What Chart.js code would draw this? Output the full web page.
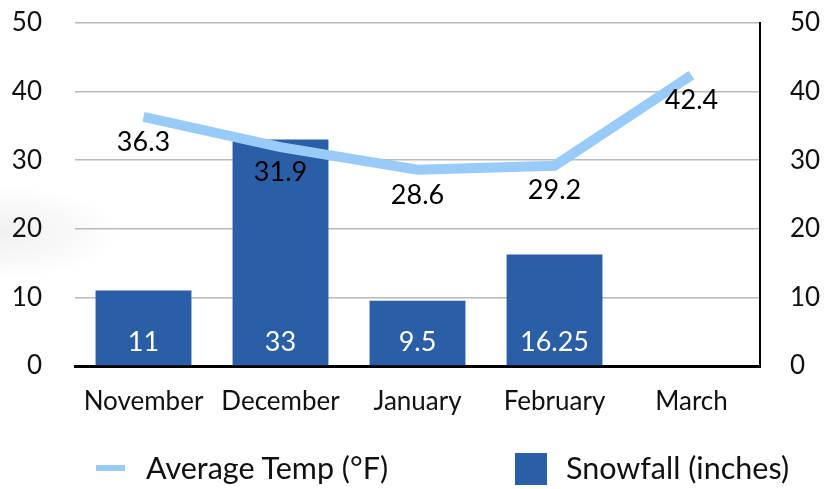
<!DOCTYPE html>
<html>
<head>
<meta charset="utf-8">
<script src="https://cdn.jsdelivr.net/npm/chart.js@4"></script>
<style>
  html, body { margin: 0; padding: 0; background: #fff; }
  body {
    width: 836px; height: 489px; position: relative; overflow: hidden;
    font-family: 'Lato', sans-serif;
  }
  .shade {
    position: absolute; left: -120px; top: 185px; width: 240px; height: 95px;
    background: radial-gradient(ellipse at center, rgba(0,0,0,0.06) 0%, rgba(0,0,0,0.025) 45%, rgba(0,0,0,0) 70%);
  }
  #wrap { position: absolute; left: 0; top: 0; width: 836px; height: 489px; }
  .legend { position: absolute; top: 449px; font-size: 30.5px; color: #111; line-height: 36px; }
  .legend .sw { position: absolute; }
</style>
</head>
<body>
<div class="shade"></div>
<div id="wrap"><canvas id="chart" width="836" height="489"></canvas></div>
<div class="legend" style="left:96px">
  <span class="sw" style="left:0;top:16px;width:29px;height:6px;background:#99cbf8"></span>
  <span style="margin-left:50px">Average Temp (°F)</span>
</div>
<div class="legend" style="left:515px">
  <span class="sw" style="left:0;top:4px;width:32px;height:32px;background:#2a5fa8"></span>
  <span style="margin-left:51px">Snowfall (inches)</span>
</div>
<script>
// Snowfall vs. average temperature, by month

const months = ['November', 'December', 'January', 'February', 'March'];
const snowfall = [11, 33, 9.5, 16.25, null];
const avgTemp = [36.3, 31.9, 28.6, 29.2, 42.4];
const axisTicks = [0, 10, 20, 30, 40, 50];

const BAR = '#2a5fa8';
const LINE = '#99cbf8';
const GRID = '#b9b9b9';
const FONT = "'Lato', sans-serif";

// value labels: white inside bar bottoms, black below the line points
const valueLabels = {
    id: 'valueLabels',
    afterDatasetsDraw(chart) {
        const ctx = chart.ctx;
        ctx.save();
        ctx.font = '27px ' + FONT;
        ctx.textAlign = 'center';
        ctx.textBaseline = 'middle';

        const bars = chart.getDatasetMeta(1).data;
        ctx.fillStyle = '#fff';
        bars.forEach((el, i) => {
            if (snowfall[i] == null) return;
            ctx.fillText(String(snowfall[i]), el.x, el.base - 23);
        });

        const pts = chart.getDatasetMeta(0).data;
        ctx.fillStyle = '#000';
        pts.forEach((el, i) => {
            ctx.fillText(avgTemp[i].toFixed(1), el.x, el.y + 25);
        });
        ctx.restore();
    },
};

const tickOpts = {
    color: '#111',
    font: { family: FONT, size: 26 },
    callback: v => axisTicks.includes(v) ? String(v) : '',
};

// fixed widths; drop the tick padding Chart.js adds above/below vertical axes
const fitY = w => s => { s.width = w; s.paddingTop = 0; s.paddingBottom = 0; };

new Chart(document.getElementById('chart'), {
    data: {
        labels: months,
        datasets: [
            {
                type: 'line',
                label: 'Average Temp (°F)',
                data: avgTemp,
                yAxisID: 'y1',
                borderColor: LINE,
                borderWidth: 10,
                pointRadius: 0,
                tension: 0,
                order: 1,
            },
            {
                type: 'bar',
                label: 'Snowfall (inches)',
                data: snowfall,
                yAxisID: 'y',
                backgroundColor: BAR,
                categoryPercentage: 1,
                barPercentage: 0.7,
                order: 2,
            },
        ],
    },
    options: {
        responsive: false,
        animation: false,
        layout: { padding: { top: 23, left: 0, right: 0, bottom: 0 } },
        plugins: { legend: { display: false }, tooltip: { enabled: false } },
        scales: {
            x: {
                grid: { display: false },
                border: { display: true, color: '#000', width: 3 },
                ticks: { color: '#111', font: { family: FONT, size: 26 }, padding: 12, maxRotation: 0 },
                afterFit: s => { s.height = 123; },
            },
            y: {
                position: 'left',
                min: 0, max: 50,
                ticks: { ...tickOpts, stepSize: 10, padding: 33 },
                grid: { color: GRID, lineWidth: 1.5, drawTicks: false },
                border: { display: false },
                afterFit: fitY(75),
            },
            y1: {
                position: 'right',
                min: 0, max: 50,
                ticks: { ...tickOpts, stepSize: 10, padding: 30 },
                grid: { display: false, drawTicks: false },
                border: { display: true, color: '#000', width: 2 },
                afterFit: fitY(76),
            },
        },
    },
    plugins: [valueLabels],
});
</script>
</body>
</html>
